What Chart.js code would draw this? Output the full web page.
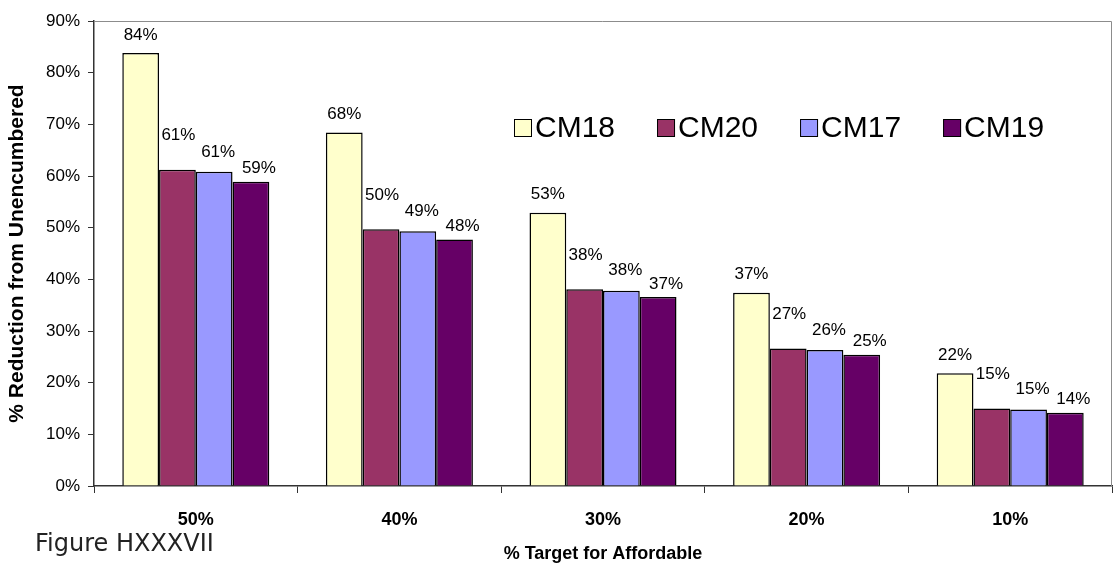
<html lang="en">
<head>
    <meta charset="UTF-8">
    <script src="https://cdn.jsdelivr.net/npm/chart.js@4.4.0/dist/chart.umd.min.js"></script>
    <title>% Reduction from Unencumbered</title>
    <style>
        body { margin: 0; background: #fff; }
        #wrap { width: 1113px; height: 565px; }
    </style>
</head>
<body>
    <div id="wrap"><canvas id="chart" width="1113" height="565"></canvas></div>
</body>
</html>

<script>
const categories = ['50%', '40%', '30%', '20%', '10%'];
const cm18 = [83.8, 68.4, 52.9, 37.4, 21.8];
const cm20 = [61.2, 49.7, 38.1, 26.6, 15.0];
const cm17 = [60.8, 49.3, 37.8, 26.3, 14.8];
const cm19 = [58.9, 47.7, 36.6, 25.4, 14.2];
const yTicks = [0, 10, 20, 30, 40, 50, 60, 70, 80, 90];

const FONT = "'Liberation Sans', Arial, sans-serif";

// value labels sit a little above each bar, like the Excel original
const labelOffsets = [18, 34, 20, 13];
const labelShift = [0, 1, 4, 8];

const valueLabels = {
    id: 'valueLabels',
    afterDatasetsDraw(chart) {
        const ctx = chart.ctx;
        ctx.save();
        ctx.font = '17px ' + FONT;
        ctx.fillStyle = '#000';
        ctx.textAlign = 'center';
        ctx.textBaseline = 'middle';
        chart.data.datasets.forEach((ds, i) => {
            chart.getDatasetMeta(i).data.forEach((bar, j) => {
                ctx.fillText(Math.round(ds.data[j]) + '%', bar.x + labelShift[i], bar.y - labelOffsets[i]);
            });
        });
        ctx.restore();
    }
};

// legend drawn inside the plot area, plus frame and figure caption
const extras = {
    id: 'extras',
    afterDraw(chart) {
        const ctx = chart.ctx;
        const a = chart.chartArea;
        ctx.save();
        ctx.strokeStyle = '#8c8c8c';
        ctx.lineWidth = 1;
        ctx.beginPath();
        ctx.moveTo(a.left, a.top + 0.5);
        ctx.lineTo(a.right - 0.5, a.top + 0.5);
        ctx.lineTo(a.right - 0.5, a.bottom);
        ctx.stroke();

        ctx.font = '30px ' + FONT;
        ctx.textBaseline = 'middle';
        ctx.textAlign = 'left';
        let x = 514;
        const y = 128;
        chart.data.datasets.forEach(ds => {
            ctx.fillStyle = ds.backgroundColor;
            ctx.fillRect(x, y - 9, 18, 18);
            ctx.strokeStyle = '#000';
            ctx.strokeRect(x + 0.5, y - 8.5, 17, 17);
            ctx.fillStyle = '#000';
            ctx.fillText(ds.label, x + 21, y + 1);
            x += 21 + ctx.measureText(ds.label).width + 42;
        });

        ctx.font = "24px 'DejaVu Sans', Verdana, sans-serif";
        ctx.fillStyle = '#222';
        ctx.textAlign = 'left';
        ctx.fillText('Figure HXXXVII', 35, 545);
        ctx.restore();
    }
};

const ctx = document.getElementById('chart').getContext('2d');
new Chart(ctx, {
    type: 'bar',
    data: {
        labels: categories,
        datasets: [
            { label: 'CM18', data: cm18, backgroundColor: '#FFFFCC' },
            { label: 'CM20', data: cm20, backgroundColor: '#993366' },
            { label: 'CM17', data: cm17, backgroundColor: '#9999FF' },
            { label: 'CM19', data: cm19, backgroundColor: '#660066' }
        ].map(d => Object.assign(d, { borderColor: '#000', borderWidth: 1.5, barPercentage: 1, categoryPercentage: 0.722 }))
    },
    options: {
        responsive: false,
        animation: false,
        layout: { padding: { top: 21, right: 1, left: 0, bottom: 0 } },
        plugins: {
            legend: { display: false },
            tooltip: { enabled: false }
        },
        scales: {
            x: {
                grid: { offset: true, drawOnChartArea: false, tickLength: 7, color: '#333' },
                border: { color: '#333', width: 1.5 },
                ticks: { color: '#000', font: { family: FONT, size: 18, weight: 'bold' }, padding: 16 },
                title: { display: true, text: '% Target for Affordable', color: '#000',
                         font: { family: FONT, size: 18, weight: 'bold' }, padding: { top: 0, bottom: 0 } },
                afterFit(scale) { scale.height = 79; }
            },
            y: {
                min: 0,
                max: 90,
                afterBuildTicks(scale) { scale.ticks = yTicks.map(v => ({ value: v })); },
                grid: { drawOnChartArea: false, tickLength: 6, color: '#333' },
                border: { color: '#333', width: 1.5 },
                ticks: { color: '#000', font: { family: FONT, size: 17 }, padding: 8,
                         callback: v => v + '%' },
                title: { display: true, text: '% Reduction from Unencumbered', color: '#000',
                         font: { family: FONT, size: 21, weight: 'bold' }, padding: { top: 5, bottom: 0 } },
                afterFit(scale) { scale.width = 94; }
            }
        }
    },
    plugins: [valueLabels, extras]
});
</script>
